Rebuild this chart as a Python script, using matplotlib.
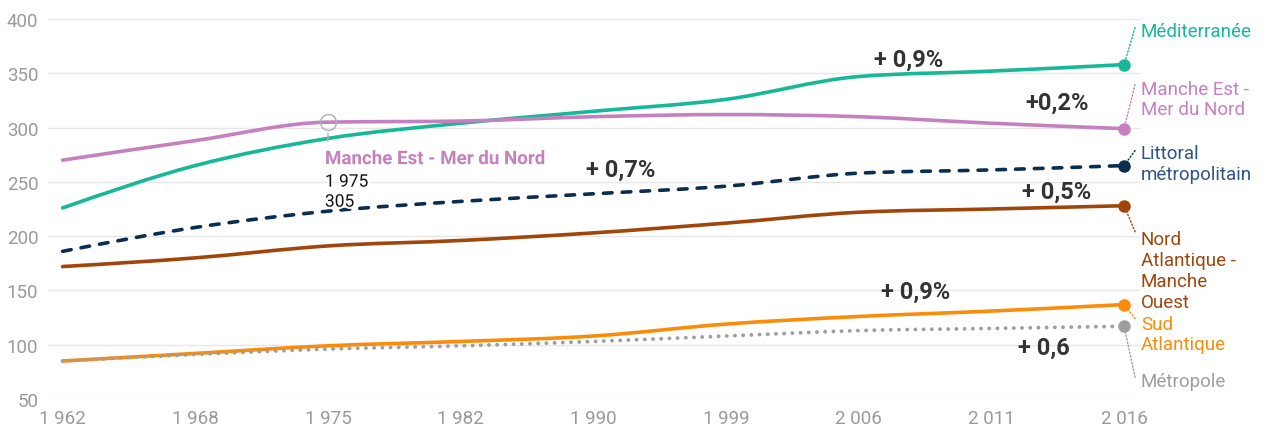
import numpy as np
import matplotlib
matplotlib.use("Agg")
import matplotlib.pyplot as plt
from matplotlib.path import Path
from matplotlib.patches import PathPatch
import matplotlib.patheffects as pe

# ---------------- data ----------------
years = ["1 962", "1 968", "1 975", "1 982", "1 990", "1 999", "2 006", "2 011", "2 016"]
mediterranee = [226, 265, 290, 304, 315, 326, 347, 352, 358]
manche_est = [270, 288, 305, 306, 310, 312, 310, 304, 299]
littoral = [186, 208, 223, 232, 239, 246, 258, 261, 265]
nord_atlantique = [172, 180, 191, 196, 203, 212, 222, 225, 228]
sud_atlantique = [85, 92, 99, 103, 108, 119, 126, 131, 137]
metropole = [85, 91, 96, 99, 103, 108, 113, 115, 117]
y_ticks = [50, 100, 150, 200, 250, 300, 350, 400]

series = [
    ("Méditerranée", mediterranee, "#17b897", "#17b897", "solid"),
    ("Manche Est -\nMer du Nord", manche_est, "#c580bf", "#c580bf", "solid"),
    ("Littoral\nmétropolitain", littoral, "#0b2d4e", "#2e5386", "dashed"),
    ("Nord\nAtlantique -\nManche\nOuest", nord_atlantique, "#a1450b", "#a1450b", "solid"),
    ("Sud\nAtlantique", sud_atlantique, "#fb8c0a", "#fb8c0a", "solid"),
    ("Métropole", metropole, "#9e9e9e", "#9e9e9e", "dotted"),
]

growth_labels = [("+ 0,9%", 909, 60), ("+0,2%", 1057, 103), ("+ 0,7%", 621, 170),
                 ("+ 0,5%", 1057, 192), ("+ 0,9%", 916, 292), ("+ 0,6", 1044, 348)]

plt.rcParams["font.family"] = ["Roboto", "DejaVu Sans"]

W, H = 1270, 431
fig = plt.figure(figsize=(W / 100, H / 100), dpi=100)
ax = fig.add_axes([48 / W, 31 / H, (1140 - 48) / W, 380 / H])
ax.set_xlim(-0.11, 8.12)
ax.set_ylim(50, 400)
for s in ax.spines.values():
    s.set_visible(False)
ax.set_yticks(y_ticks)
ax.set_xticks(range(len(years)))
ax.set_xticklabels(years)
ax.tick_params(length=0, labelsize=13.5, labelcolor="#9a9a9a")
ax.tick_params(axis="y", pad=7)
ax.tick_params(axis="x", pad=7)
ax.yaxis.grid(True, color="#e6e6e6", lw=1)
ax.set_axisbelow(True)


def monotone_path(xs, ys):
    xs = np.asarray(xs, float)
    ys = np.asarray(ys, float)
    n = len(xs)
    h = np.diff(xs)
    s = np.diff(ys) / h
    m = np.zeros(n)
    for i in range(1, n - 1):
        s0, s1 = s[i - 1], s[i]
        p = (s0 * h[i] + s1 * h[i - 1]) / (h[i - 1] + h[i])
        m[i] = (np.sign(s0) + np.sign(s1)) * min(abs(s0), abs(s1), 0.5 * abs(p))
    m[0] = (3 * s[0] - m[1]) / 2
    m[-1] = (3 * s[-1] - m[-2]) / 2
    verts = [(xs[0], ys[0])]
    codes = [Path.MOVETO]
    for i in range(n - 1):
        d = h[i] / 3
        verts += [(xs[i] + d, ys[i] + m[i] * d),
                  (xs[i + 1] - d, ys[i + 1] - m[i + 1] * d),
                  (xs[i + 1], ys[i + 1])]
        codes += [Path.CURVE4] * 3
    return Path(verts, codes)


xs = np.arange(len(years))
for name, vals, col, tcol, style in series:
    if style == "dashed":
        ls = (0, (2.4, 2.8))
    elif style == "dotted":
        ls = (0, (0.01, 2.1))
    else:
        ls = "solid"
    patch = PathPatch(monotone_path(xs, vals), fill=False, edgecolor=col,
                      lw=2.6 if style != "dotted" else 2.8, linestyle=ls,
                      capstyle="round", joinstyle="round", zorder=3)
    ax.add_patch(patch)
    ax.plot([xs[-1]], [vals[-1]], "o", color=col, ms=8, zorder=4)

# leader lines + labels
leader_offsets = [(11, 37), (11, 44), (11, 15), (11, -26), (11, -14), (11, -51)]
label_centers = [32, 100, 164.5, 271.5, 335, 382]
for (name, vals, col, tcol, style), (dx, dy), cy in zip(series, leader_offsets, label_centers):
    ax.annotate("", xy=(xs[-1], vals[-1]), xytext=(dx, dy), textcoords="offset pixels",
                arrowprops=dict(arrowstyle="-", color=col, lw=1, linestyle=(0, (1, 1.5)),
                                shrinkA=0, shrinkB=4))
    fig.text(1141 / W, 1 - cy / H, name, color=tcol, fontsize=13.5, ha="left",
             va="center", linespacing=1.2)

for txt, cx, cy in growth_labels:
    fig.text(cx / W, 1 - cy / H, txt, color="#333333", fontsize=17, fontweight="bold",
             ha="center", va="center")

# hover tooltip on Manche Est 1975
hx, hy = 2, manche_est[2]
ax.plot([hx], [hy], "o", mfc="none", mec="#b0b0b0", mew=1, ms=11.5, zorder=5)
ax.annotate("", xy=(hx, hy), xytext=(0, -19), textcoords="offset pixels",
            arrowprops=dict(arrowstyle="-", color="#b0b0b0", lw=1, shrinkA=0, shrinkB=8))
halo = [pe.withStroke(linewidth=3, foreground="white")]
ax.annotate("Manche Est - Mer du Nord", xy=(hx, hy), xytext=(-3, -37), textcoords="offset pixels",
            color="#c580bf", fontsize=13.5, fontweight="bold", ha="left", va="center",
            path_effects=halo, zorder=6)
ax.annotate(years[2], xy=(hx, hy), xytext=(-3, -60), textcoords="offset pixels",
            color="#111111", fontsize=12.5, ha="left", va="center", path_effects=halo, zorder=6)
ax.annotate(str(manche_est[2]), xy=(hx, hy), xytext=(-3, -80), textcoords="offset pixels",
            color="#111111", fontsize=12.5, ha="left", va="center", path_effects=halo, zorder=6)

fig.savefig("out.png", dpi=100)
